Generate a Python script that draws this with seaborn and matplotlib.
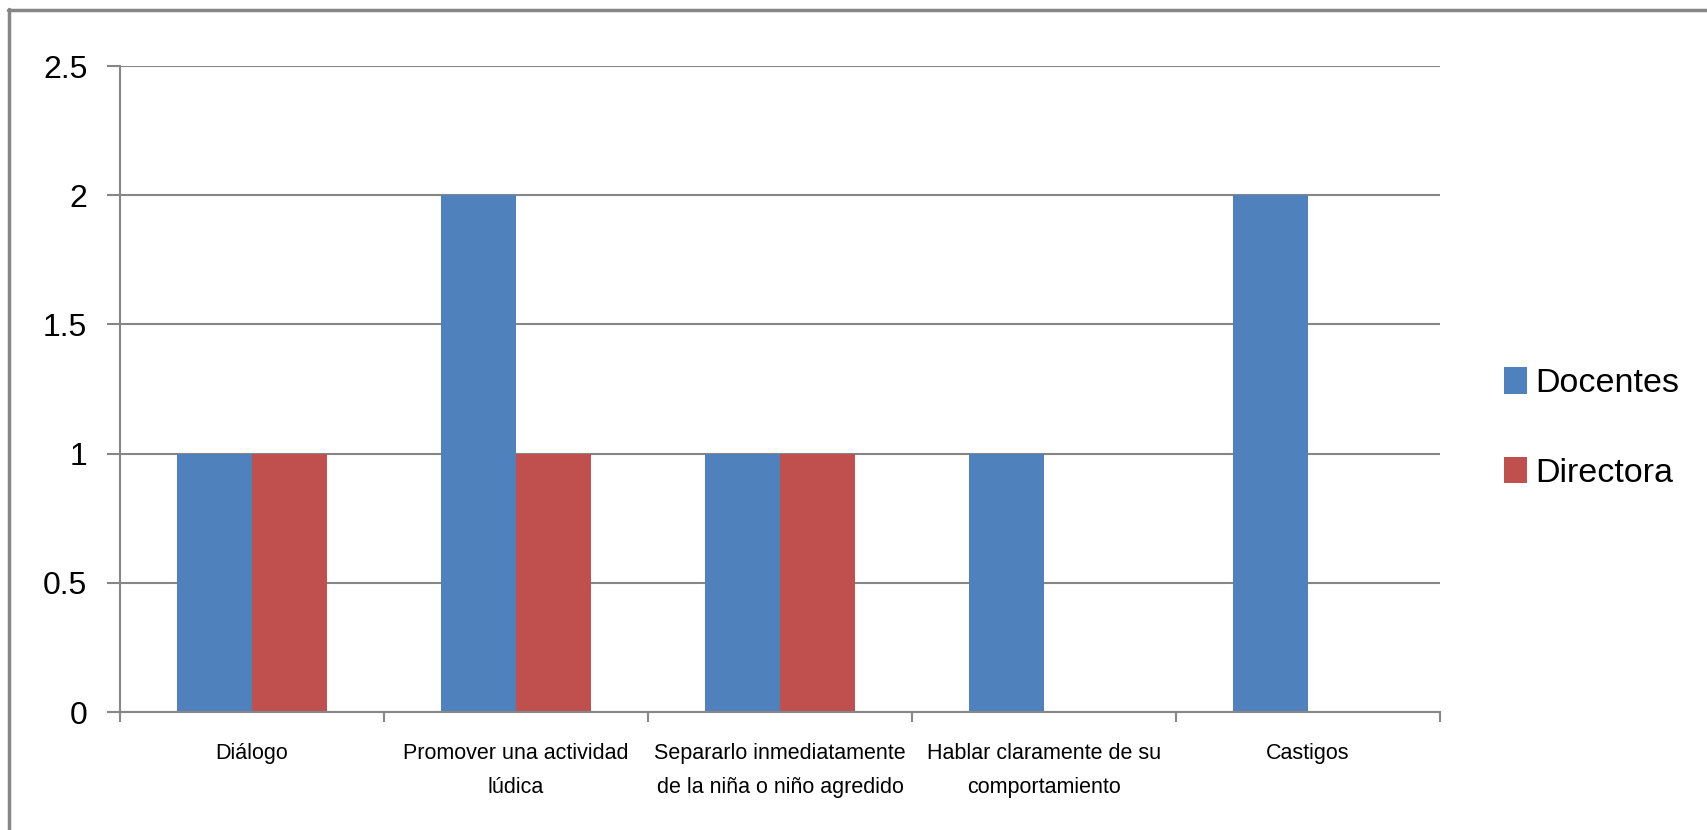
import matplotlib
matplotlib.use("Agg")
import matplotlib.pyplot as plt
import pandas as pd
import seaborn as sns
from matplotlib import font_manager
from matplotlib.lines import Line2D

# --- data ---
categories = [
    "Diálogo",
    "Promover una actividad\nlúdica",
    "Separarlo inmediatamente\nde la niña o niño agredido",
    "Hablar claramente de su\ncomportamiento",
    "Castigos",
]
docentes = [1, 2, 1, 1, 2]
directora = [1, 1, 1, 0, 0]
series_names = ["Docentes", "Directora"]
yticks = [0, 0.5, 1, 1.5, 2, 2.5]
ytick_labels = ["0", "0.5", "1", "1.5", "2", "2.5"]

BLUE = "#4F81BD"
RED = "#C0504D"
GREY = "#868686"

installed = {f.name for f in font_manager.fontManager.ttflist}
narrow = "Liberation Sans Narrow" if "Liberation Sans Narrow" in installed else "Liberation Sans"

sns.set_style("white")
plt.rcParams["font.family"] = [narrow, "DejaVu Sans"]
plt.rcParams["text.color"] = "black"
plt.rcParams["xtick.labelcolor"] = "black"
plt.rcParams["ytick.labelcolor"] = "black"

df = pd.DataFrame({
    "categoria": categories * 2,
    "serie": [series_names[0]] * len(categories) + [series_names[1]] * len(categories),
    "valor": docentes + directora,
})

DPI = 100
W, H = 1707, 830
fig = plt.figure(figsize=(W / DPI, H / DPI), dpi=DPI)
ax = fig.add_axes([120 / W, 118 / H, 1320 / W, 646 / H])

sns.barplot(
    data=df, x="categoria", y="valor", hue="serie",
    palette=[BLUE, RED], width=0.57, gap=0, saturation=1,
    errorbar=None, ax=ax, legend=False, zorder=3,
)
for p in ax.patches:
    p.set_linewidth(0)

ax.set_xlim(-0.5, len(categories) - 0.5)
ax.set_ylim(0, 2.5)
ax.set_xlabel("")
ax.set_ylabel("")

# horizontal gridlines
ax.set_yticks(yticks)
ax.set_yticklabels(ytick_labels, fontsize=23)
ax.yaxis.grid(True, color=GREY, linewidth=1.5, zorder=0)
ax.xaxis.grid(False)
ax.set_axisbelow(True)
ax.tick_params(axis="y", direction="out", length=9.5, width=1.5, color=GREY, pad=14, left=True)

# category labels centred, ticks between categories
ax.set_xticks(range(len(categories)))
ax.set_xticklabels(categories, fontsize=15.5, linespacing=1.85)
ax.tick_params(axis="x", which="major", length=0, pad=22)
ax.set_xticks([i - 0.5 for i in range(len(categories) + 1)], minor=True)
ax.tick_params(axis="x", which="minor", direction="out", length=7.5, width=1.5,
               color=GREY, bottom=True)

for side in ["top", "right"]:
    ax.spines[side].set_visible(False)
for side in ["left", "bottom"]:
    ax.spines[side].set_color(GREY)
    ax.spines[side].set_linewidth(1.5)
    ax.spines[side].set_zorder(4)

handles = [plt.Rectangle((0, 0), 1, 1, facecolor=c, edgecolor="none") for c in (BLUE, RED)]
fig.legend(
    handles, series_names, loc="center left", bbox_to_anchor=(1490 / W, 1 - 428 / H),
    frameon=False, fontsize=24.5, handlelength=0.68, handleheight=0.82,
    handletextpad=0.26, labelspacing=1.7, borderaxespad=0,
)

# outer chart-area border (right and bottom edges fall outside the picture)
fig.add_artist(Line2D([8 / W, 1.0], [1 - 10 / H] * 2, color=GREY, linewidth=2.5))
fig.add_artist(Line2D([9 / W] * 2, [0.0, 1 - 9 / H], color=GREY, linewidth=2.5))

fig.savefig("out.png", dpi=DPI)
